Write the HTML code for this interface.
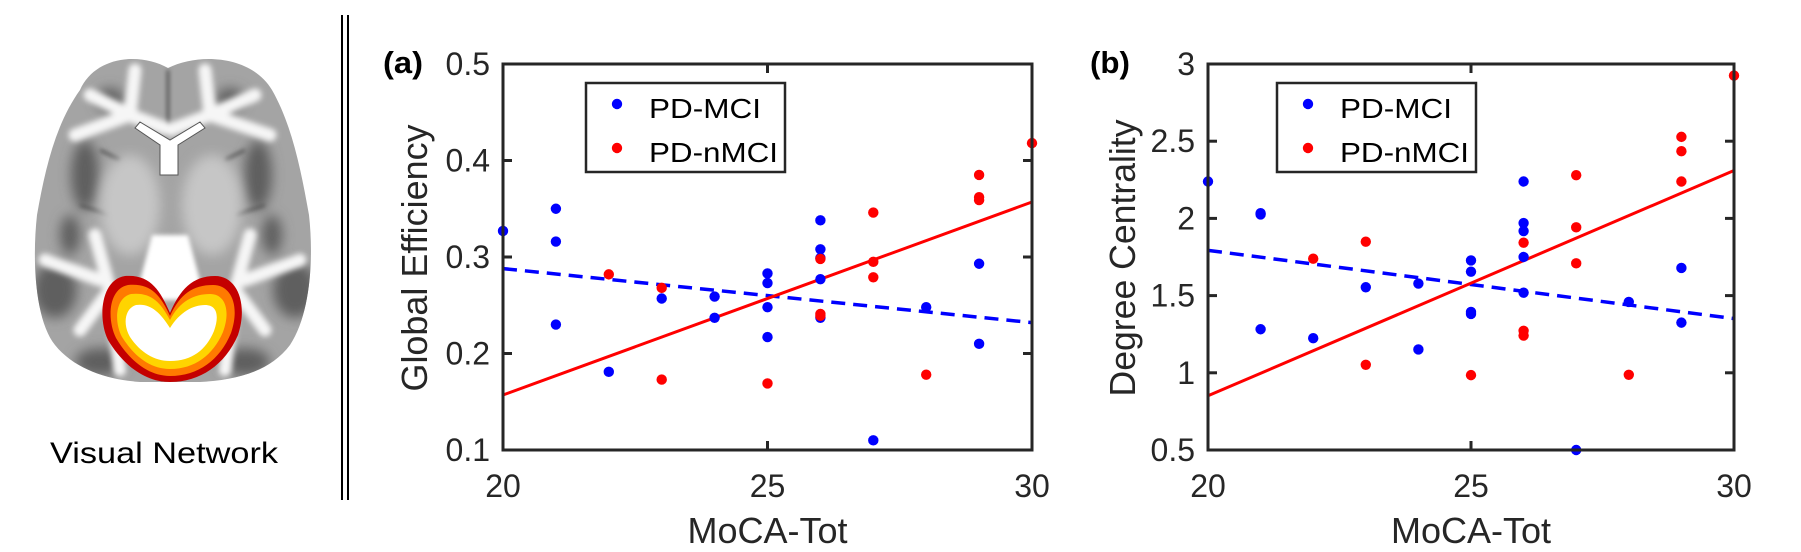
<!DOCTYPE html>
<html><head><meta charset="utf-8"><style>
html,body{margin:0;padding:0;background:#fff;}
svg{display:block;}
</style></head><body>
<svg id="fig" width="1801" height="552" viewBox="0 0 1801 552" xmlns="http://www.w3.org/2000/svg">
<defs>
  <filter id="blur2"><feGaussianBlur stdDeviation="2"/></filter>
  <filter id="blur3"><feGaussianBlur stdDeviation="3"/></filter>
  <filter id="blur6"><feGaussianBlur stdDeviation="6"/></filter>
  <clipPath id="brainClip"><path d="M168,68 C140,52 95,56 80,90 C55,125 45,170 37,215 C32,260 35,320 55,345 C75,370 110,380 140,382 L200,382 C235,380 270,372 290,345 C310,315 314,260 309,215 C301,170 292,125 272,90 C252,56 200,52 168,68 Z"/></clipPath>
</defs>
<g>
  <g clip-path="url(#brainClip)">
    <rect x="30" y="50" width="290" height="340" fill="#a4a4a4"/>
    <g filter="url(#blur6)" fill="#5e5e5e">
      <ellipse cx="55" cy="290" rx="22" ry="28"/><ellipse cx="295" cy="290" rx="22" ry="28"/>
      <ellipse cx="85" cy="175" rx="14" ry="35"/><ellipse cx="258" cy="175" rx="14" ry="35"/>
      <ellipse cx="100" cy="362" rx="25" ry="14"/><ellipse cx="245" cy="362" rx="25" ry="14"/>
      <ellipse cx="110" cy="100" rx="14" ry="12"/><ellipse cx="230" cy="100" rx="14" ry="12"/>
      <ellipse cx="70" cy="235" rx="10" ry="20"/><ellipse cx="272" cy="235" rx="10" ry="20"/>
    </g>
    <g filter="url(#blur2)" stroke="#555" stroke-width="3" fill="none">
      <path d="M168,70 L168,135"/>
      <path d="M80,205 L110,215 M265,205 L235,215 M100,150 L120,160 M245,150 L225,160"/>
    </g>
    <g filter="url(#blur6)" fill="#c6c6c6">
      <ellipse cx="130" cy="205" rx="30" ry="50"/><ellipse cx="212" cy="205" rx="30" ry="50"/>
    </g>
    <g filter="url(#blur3)" stroke="#f6f6f6" stroke-width="13" fill="none" stroke-linecap="round">
      <path d="M135,70 L130,115 L90,95 M130,115 L75,135 M130,115 L170,130 L210,115 L205,70 M210,115 L255,95 M210,115 L270,135"/>
      <path d="M95,235 L110,290 L80,330 M110,290 L120,370"/>
      <path d="M250,235 L235,290 L265,330 M235,290 L225,370"/>
      <path d="M45,260 L100,280 M300,260 L245,280"/>
    </g>
    <path d="M152,235 L188,235 L205,300 L135,300 Z" fill="#fff" filter="url(#blur2)"/>
    <path d="M135,128 L160,145 L160,175 L178,175 L178,145 L205,128 L200,122 L170,140 L140,122 Z" fill="#fff" stroke="#555" stroke-width="1"/>
  </g>
  <g>
    <path d="M170,313 C160,290 150,274 125,276 C100,280 98,320 108,340 C123,365 145,382 170,382 C200,382 225,365 238,335 C248,305 238,276 215,276 C192,276 180,290 170,313 Z" fill="#c40000"/>
    <path d="M170,316 C160,294 150,283 128,285 C108,289 107,320 116,338 C129,360 148,376 170,376 C198,376 220,360 231,333 C240,307 232,285 213,285 C193,285 180,294 170,316 Z" fill="#ff7a00"/>
    <path d="M170,320 C160,301 150,292 131,294 C115,298 114,322 122,337 C134,356 150,369 170,369 C195,369 213,355 223,332 C231,310 225,294 210,294 C194,294 180,301 170,320 Z" fill="#ffd400"/>
    <path d="M170,328 C160,312 150,303 136,305 C124,309 123,325 130,337 C140,352 154,361 170,361 C192,361 206,350 214,331 C220,314 216,305 205,305 C193,305 180,312 170,328 Z" fill="#fff"/>
  </g>
</g>
<text x="164" y="463" font-family="Liberation Sans, sans-serif" font-size="30" text-anchor="middle" textLength="228" lengthAdjust="spacingAndGlyphs" fill="#000">Visual Network</text>
<line x1="342" y1="15" x2="342" y2="500" stroke="#000" stroke-width="2"/>
<line x1="348" y1="15" x2="348" y2="500" stroke="#000" stroke-width="2"/>
<g id="panelA"></g>
<g id="panelB"></g>
</svg>
<script>
// Panel (a) data
const xTicks = [20, 25, 30];
const aYTicks = [0.1, 0.2, 0.3, 0.4, 0.5];
const aMciX = [20,21,21,21,22,23,24,24,25,25,25,25,26,26,26,26,26,27,28,29,29];
const aMciY = [0.327,0.350,0.316,0.230,0.181,0.257,0.259,0.237,0.283,0.273,0.248,0.217,0.338,0.308,0.299,0.277,0.237,0.110,0.248,0.293,0.210];
const aNmciX = [22,23,23,25,26,26,26,27,27,27,28,29,29,29,30];
const aNmciY = [0.282,0.268,0.173,0.169,0.298,0.241,0.239,0.346,0.295,0.279,0.178,0.385,0.362,0.359,0.418];
const aFitX = [20, 30];
const aFitNmci = [0.157, 0.357];
const aFitMci = [0.288, 0.232];
// Panel (b) data
const bYTicks = [0.5, 1, 1.5, 2, 2.5, 3];
const bMciX = [20,21,21,21,22,23,24,24,25,25,25,25,26,26,26,26,26,27,28,29,29];
const bMciY = [2.239,2.034,2.026,1.282,1.224,1.554,1.578,1.151,1.728,1.655,1.394,1.381,2.239,1.970,1.918,1.750,1.519,0.5,1.459,1.679,1.325];
const bNmciX = [22,23,23,25,26,26,26,27,27,27,28,29,29,29,30];
const bNmciY = [1.739,1.849,1.052,0.985,1.843,1.272,1.241,2.280,1.942,1.709,0.987,2.528,2.435,2.239,2.925];
const bFitX = [20, 30];
const bFitNmci = [0.851, 2.310];
const bFitMci = [1.793, 1.351];

const NS = 'http://www.w3.org/2000/svg';
function mk(parent, tag, attrs, txt){
  const e = document.createElementNS(NS, tag);
  for (const k in attrs) e.setAttribute(k, attrs[k]);
  if (txt !== undefined) e.textContent = txt;
  parent.appendChild(e);
  return e;
}
const FONT = 'Liberation Sans, sans-serif';

function drawPanel(g, cfg){
  const {L, R, T, B, xMin, xMax, yMin, yMax} = cfg;
  const sx = v => L + (v - xMin) / (xMax - xMin) * (R - L);
  const sy = v => B - (v - yMin) / (yMax - yMin) * (B - T);
  const lm = mk(g, 'line', {x1: sx(cfg.fitX[0]), y1: sy(cfg.fitMci[0]), x2: sx(cfg.fitX[1]), y2: sy(cfg.fitMci[1]), stroke: '#0000ff', 'stroke-width': 3.5, 'stroke-dasharray': '14 8'});
  
  
  const ln = mk(g, 'line', {x1: sx(cfg.fitX[0]), y1: sy(cfg.fitNmci[0]), x2: sx(cfg.fitX[1]), y2: sy(cfg.fitNmci[1]), stroke: '#ff0000', 'stroke-width': 3});
  
  
  cfg.mciX.forEach((x, i) => {
    const c = mk(g, 'circle', {cx: sx(x), cy: sy(cfg.mciY[i]), r: 5.2, fill: '#0000ff'});
    
    
  });
  cfg.nmciX.forEach((x, i) => {
    const c = mk(g, 'circle', {cx: sx(x), cy: sy(cfg.nmciY[i]), r: 5.2, fill: '#ff0000'});
    
    
  });
  const box = mk(g, 'rect', {x: L, y: T, width: R - L, height: B - T, fill: 'none', stroke: '#262626', 'stroke-width': 3});
  
  
  xTicks.forEach(v => {
    mk(g, 'line', {x1: sx(v), y1: B, x2: sx(v), y2: B - 9, stroke: '#262626', 'stroke-width': 3});
    mk(g, 'line', {x1: sx(v), y1: T, x2: sx(v), y2: T + 9, stroke: '#262626', 'stroke-width': 3});
    const t = mk(g, 'text', {x: sx(v), y: B + 47, 'font-family': FONT, 'font-size': 32, 'text-anchor': 'middle', fill: '#262626'}, String(v));
    
    
  });
  cfg.yTicks.forEach(v => {
    mk(g, 'line', {x1: L, y1: sy(v), x2: L + 9, y2: sy(v), stroke: '#262626', 'stroke-width': 3});
    mk(g, 'line', {x1: R, y1: sy(v), x2: R - 9, y2: sy(v), stroke: '#262626', 'stroke-width': 3});
    const t = mk(g, 'text', {x: L - 13, y: sy(v) + 11, 'font-family': FONT, 'font-size': 32, 'text-anchor': 'end', fill: '#262626'}, String(v));
    
    
  });
  const xt = mk(g, 'text', {x: (L + R) / 2, y: 543, 'font-family': FONT, 'font-size': 36, 'text-anchor': 'middle', fill: '#262626'}, 'MoCA-Tot');
  
  
  const yt = mk(g, 'text', {x: 0, y: 0, 'font-family': FONT, 'font-size': 36, 'text-anchor': 'middle', fill: '#262626', transform: `translate(${cfg.yTitleX},258) rotate(-90)`, textLength: cfg.yTitleLen, lengthAdjust: 'spacingAndGlyphs'}, cfg.yTitle);
  
  
  const pl = mk(g, 'text', {x: cfg.labelX, y: 73, 'font-family': FONT, 'font-size': 31, 'font-weight': 'bold', fill: '#000', textLength: 40, lengthAdjust: 'spacingAndGlyphs'}, cfg.label);
  
  
  const lg = mk(g, 'g', {});
  
  
  mk(lg, 'rect', {x: cfg.legX, y: 83, width: 199, height: 89, fill: '#fff', stroke: '#262626', 'stroke-width': 2.5});
  const e1 = mk(lg, 'g', {});
  
  
  mk(e1, 'circle', {cx: cfg.legX + 31, cy: 104, r: 5.2, fill: '#0000ff'});
  mk(e1, 'text', {x: cfg.legX + 63, y: 118, 'font-family': FONT, 'font-size': 28, fill: '#000', textLength: 112, lengthAdjust: 'spacingAndGlyphs'}, 'PD-MCI');
  const e2 = mk(lg, 'g', {});
  
  
  mk(e2, 'circle', {cx: cfg.legX + 31, cy: 148, r: 5.2, fill: '#ff0000'});
  mk(e2, 'text', {x: cfg.legX + 63, y: 162, 'font-family': FONT, 'font-size': 28, fill: '#000', textLength: 129, lengthAdjust: 'spacingAndGlyphs'}, 'PD-nMCI');
}

drawPanel(document.getElementById('panelA'), {
  L: 503, R: 1032, T: 64, B: 450, xMin: 20, xMax: 30, yMin: 0.1, yMax: 0.5,
  yTicks: aYTicks, mciX: aMciX, mciY: aMciY, nmciX: aNmciX, nmciY: aNmciY,
  fitX: aFitX, fitMci: aFitMci, fitNmci: aFitNmci,
  yTitle: 'Global Efficiency', yTitleX: 427, yTitleLen: 267, label: '(a)', labelX: 383, legX: 586
});
drawPanel(document.getElementById('panelB'), {
  L: 1208, R: 1734, T: 64, B: 450, xMin: 20, xMax: 30, yMin: 0.5, yMax: 3,
  yTicks: bYTicks, mciX: bMciX, mciY: bMciY, nmciX: bNmciX, nmciY: bNmciY,
  fitX: bFitX, fitMci: bFitMci, fitNmci: bFitNmci,
  yTitle: 'Degree Centrality', yTitleX: 1135, yTitleLen: 277, label: '(b)', labelX: 1090, legX: 1277
});
</script>
</body></html>
